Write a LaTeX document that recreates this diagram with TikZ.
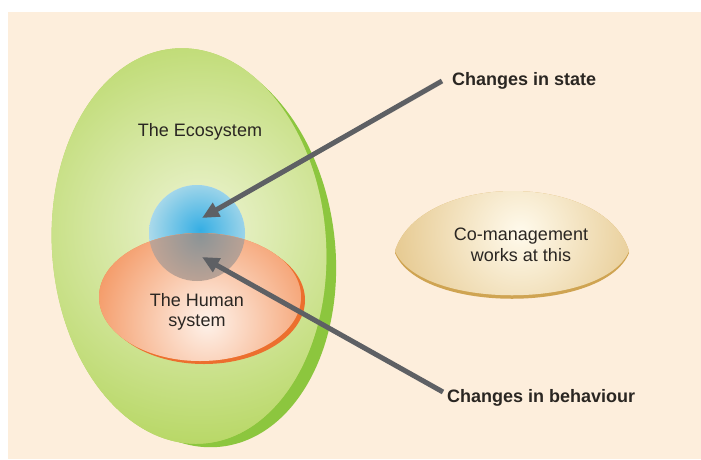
\documentclass[tikz,border=0pt]{standalone}
\usepackage{fontspec}
\setmainfont{Liberation Sans}
\usetikzlibrary{arrows.meta}

\definecolor{paper}{HTML}{FDEEDC}
\definecolor{ink}{HTML}{2A2622}
\definecolor{arrowgrey}{HTML}{5E6064}
\definecolor{greenrim}{HTML}{8CC63E}
\definecolor{greenedge}{HTML}{B5D660}
\definecolor{greencore}{HTML}{EEF4D4}
\definecolor{blueedge}{HTML}{CDE6EC}
\definecolor{bluecore}{HTML}{35AEE4}
\definecolor{orangerim}{HTML}{EC6F2E}
\definecolor{orangeedge}{HTML}{F2884C}
\definecolor{orangecore}{HTML}{FEF2EA}
\definecolor{overlapgrey}{HTML}{8C9496}
\definecolor{overlapedge}{HTML}{F3B394}
\definecolor{goldrim}{HTML}{CFA452}
\definecolor{goldedge}{HTML}{DAB264}
\definecolor{goldcore}{HTML}{FFFAEC}

\tikzset{
  label/.style={font=\fontsize{18}{20.5}\selectfont, text=ink, align=center, inner sep=0pt},
  callout/.style={font=\fontsize{18}{20.5}\selectfont\bfseries, text=ink, inner sep=0pt},
  pointer/.style={draw=arrowgrey, line width=5pt, -{Triangle[length=17pt,width=15pt]}},
}

\begin{document}
\begin{tikzpicture}[x=1pt,y=-1pt]
  % page and paper
  \useasboundingbox (0,0) rectangle (701,459);
  \fill[white] (0,0) rectangle (701,459);
  \fill[paper] (8,12) rectangle (701,459);

  % the ecosystem: darker rim behind a lighter body
  \fill[greenrim, rotate around={7:(198,250)}] (198,250) ellipse (137 and 198);
  \begin{scope}
    \clip[rotate around={4:(189,246)}] (189,246) ellipse (137 and 198);
    \fill[greenedge] (40,40) rectangle (340,450);
    \shade[inner color=greencore, outer color=greenedge] (200,228) circle (230);
  \end{scope}

  % blue zone where the two systems meet
  \begin{scope}
    \clip (197,233) circle (48);
    \fill[blueedge] (197,233) circle (48);
    \shade[inner color=bluecore, outer color=blueedge] (200,230) circle (66);
  \end{scope}

  % the human system
  \fill[orangerim] (204,300) ellipse (101 and 64);
  \begin{scope}
    \clip (200,297) ellipse (101 and 64);
    \fill[orangeedge] (95,230) rectangle (310,370);
    \shade[inner color=orangecore, outer color=orangeedge] (207,322) circle (140);
    \clip (197,233) circle (48);
    \shade[inner color=overlapgrey, outer color=overlapedge] (200,236) circle (100);
  \end{scope}

  % co-management lens
  \fill[goldrim] (395,253) .. controls (420,174) and (604,172) .. (629,253)
                  .. controls (604,314) and (420,314) .. (395,253) -- cycle;
  \begin{scope}
    \clip (395,251) .. controls (420,172) and (604,170) .. (629,251)
          .. controls (604,310) and (420,310) .. (395,251) -- cycle;
    \fill[goldedge] (390,180) rectangle (635,310);
    \shade[inner color=goldcore, outer color=goldedge] (520,232) circle (190);
  \end{scope}

  % labels
  \node[label] (eco) at (200,132) {The Ecosystem};
  \node[label] (human) at (197,312) {The Human\\system};
  \node[label] (comgmt) at (521,245) {Co-management\\works at this};
  \node[callout, anchor=base west] (state) at (452,85) {Changes in state};
  \node[callout, anchor=base west] (behaviour) at (447,402) {Changes in behaviour};

  % pointers
  \coordinate (stateTail) at (442,81);
  \coordinate (stateTip) at (202,218);
  \coordinate (behaviourTail) at (443,392);
  \coordinate (behaviourTip) at (202,257);
  \draw[pointer] (stateTail) -- (stateTip);
  \draw[pointer] (behaviourTail) -- (behaviourTip);
\end{tikzpicture}
\end{document}
